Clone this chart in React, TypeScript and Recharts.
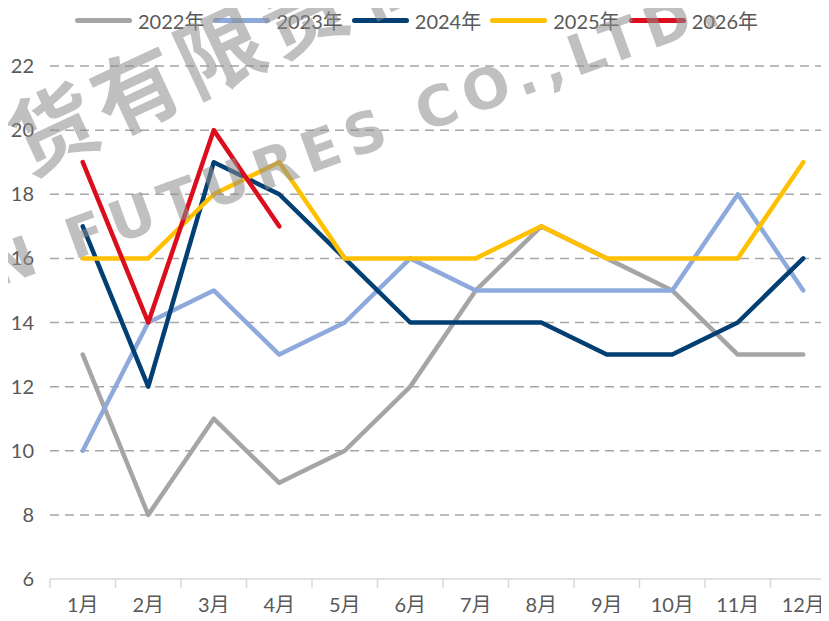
import { LineChart, Line, XAxis, YAxis, ReferenceLine, Legend } from "recharts";

const months = ["1月", "2月", "3月", "4月", "5月", "6月", "7月", "8月", "9月", "10月", "11月", "12月"];
const y2022 = [13, 8, 11, 9, 10, 12, 15, 17, 16, 15, 13, 13];
const y2023 = [10, 14, 15, 13, 14, 16, 15, 15, 15, 15, 18, 15];
const y2024 = [17, 12, 19, 18, 16, 14, 14, 14, 13, 13, 14, 16];
const y2025 = [16, 16, 18, 19, 16, 16, 16, 17, 16, 16, 16, 19];
const y2026 = [19, 14, 20, 17];

const yTicks = [6, 8, 10, 12, 14, 16, 18, 20, 22];
const gridValues = [8, 10, 12, 14, 16, 18, 20, 22];

const series = [
  { key: "s2022", name: "2022年", color: "#a5a5a5" },
  { key: "s2023", name: "2023年", color: "#8eaadc" },
  { key: "s2024", name: "2024年", color: "#023f73" },
  { key: "s2025", name: "2025年", color: "#ffc000" },
  { key: "s2026", name: "2026年", color: "#dc0d1c" },
];

const data = months.map((m, i) => ({
  month: m,
  s2022: y2022[i],
  s2023: y2023[i],
  s2024: y2024[i],
  s2025: y2025[i],
  s2026: y2026[i],
}));

const font = "Lato, 'Noto Sans CJK SC', sans-serif";
const textColor = "#595959";
const axisColor = "#d9d9d9";

// month label plus the small tick mark at the left edge of each band (Excel style)
const MonthTick = (props: any) => {
  const { x, y, payload, index, visibleTicksCount } = props;
  const half = payload.offset || 0;
  return (
    <g>
      <line x1={x - half} x2={x - half} y1={y} y2={y + 9} stroke={axisColor} strokeWidth={1.5} />
      {index === visibleTicksCount - 1 && (
        <line x1={x + half} x2={x + half} y1={y} y2={y + 9} stroke={axisColor} strokeWidth={1.5} />
      )}
      <text x={x} y={y + 19} dy="0.71em" textAnchor="middle" fill={textColor} fontSize={20} fontFamily={font}>
        {payload.value}
      </text>
    </g>
  );
};

const renderLegend = (props: any) => (
  <div style={{ display: "flex", alignItems: "center", fontFamily: font, fontSize: 20, color: textColor }}>
    {props.payload.map((entry: any) => (
      <div key={entry.value} style={{ display: "flex", alignItems: "center", marginRight: 9 }}>
        <span
          style={{
            display: "inline-block",
            width: 57,
            height: 5,
            borderRadius: 3,
            background: entry.color,
            marginRight: 6,
          }}
        />
        <span>{entry.value}</span>
      </div>
    ))}
  </div>
);

const wmStyle = {
  position: "absolute" as const,
  whiteSpace: "nowrap" as const,
  color: "rgba(140,140,140,0.55)",
  fontWeight: 700,
  lineHeight: 1,
  pointerEvents: "none" as const,
  transformOrigin: "0 50%",
};

export default function App() {
  return (
    <div style={{ position: "relative", margin: -8, width: 829, height: 621, overflow: "hidden", background: "#fff" }}>
      <LineChart width={836} height={621} data={data} margin={{ top: 66, right: 0, bottom: 0, left: 0 }}>
        <XAxis
          dataKey="month"
          scale="band"
          height={42}
          axisLine={{ stroke: axisColor, strokeWidth: 1.5 }}
          tickLine={false}
          tickSize={0}
          tickMargin={0}
          interval={0}
          tick={<MonthTick />}
        />
        <YAxis
          width={50}
          domain={[6, 22]}
          ticks={yTicks}
          interval={0}
          axisLine={false}
          tickLine={false}
          tickSize={0}
          tickMargin={16}
          tick={{ fill: textColor, fontSize: 20, fontFamily: font }}
        />
        {gridValues.map((v) => (
          <ReferenceLine key={v} y={v} stroke="#a6a6a6" strokeWidth={1.5} strokeDasharray="9 6" />
        ))}
        <Legend
          layout="vertical"
          align="center"
          verticalAlign="middle"
          content={renderLegend}
          wrapperStyle={{ top: 6, left: 75, width: "auto" }}
        />
        {series.map((s) => (
          <Line
            key={s.key}
            type="linear"
            dataKey={s.key}
            name={s.name}
            stroke={s.color}
            strokeWidth={4.5}
            strokeLinecap="round"
            strokeLinejoin="round"
            dot={false}
            activeDot={false}
            isAnimationActive={false}
          />
        ))}
      </LineChart>
      <div style={{ ...wmStyle, left: 12, top: 100, fontSize: 86, letterSpacing: 6, transform: "rotate(-25deg)", fontFamily: "'Noto Sans CJK SC', sans-serif" }}>
        货有限责任公司
      </div>
      <div style={{ ...wmStyle, left: -10, top: 242, fontSize: 56, letterSpacing: 8, transform: "rotate(-20deg)", fontFamily: "'DejaVu Sans', sans-serif" }}>
        N FUTURES CO.,LTD.
      </div>
    </div>
  );
}
